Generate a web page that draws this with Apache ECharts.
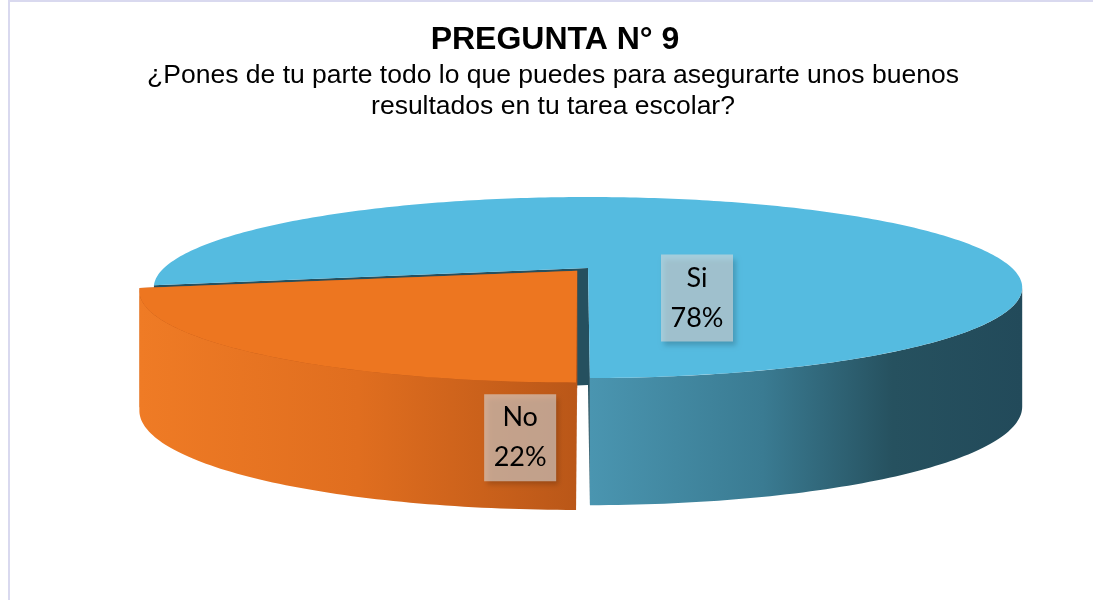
<!DOCTYPE html>
<html>
<head>
<meta charset="utf-8">
<script src="https://cdn.jsdelivr.net/npm/echarts@6/dist/echarts.min.js"></script>
<style>
  html, body { margin: 0; background: #fff; }
  #chart { width: 1093px; height: 600px; }
</style>
</head>
<body>
<div id="chart"></div>
<script>
// datos de la pregunta
var titleText = 'PREGUNTA N° 9';
var subtitleLines = [
  '¿Pones de tu parte todo lo que puedes para asegurarte unos buenos',
  'resultados en tu tarea escolar?'
];
var categories = ['Si', 'No'];
var percents = [78, 22];

// estilo / geometria del "pastel 3D"
var topColors = ['#55BBE0', '#ED7620'];
var faceColors = ['#25505F', '#B8561A'];
var wallStops = [
  [[0, '#4A95B0'], [0.4, '#3A7B92'], [0.7, '#26515F'], [1, '#224A5A']],
  [[0, '#EF7B25'], [0.5, '#E06E1F'], [1, '#BA5718']]
];
var explode = [0, 0.04];
var labelShift = [[109, 30], [-57, 167]];
var firstAngle = 169;
var CX = 588, CY = 268, RX = 424, RY = 86.3, K = 0.2155, DEPTH = 117, K2 = 0.08;

var total = percents.reduce(function (a, b) { return a + b; }, 0);
var angles = [];
var acc = firstAngle;
percents.forEach(function (p) {
  var a0 = acc * Math.PI / 180;
  acc += p / total * 360;
  angles.push([a0, acc * Math.PI / 180]);
});

function proj(u, v, h) {
  var d = 1 - K * v;
  return [CX + RX * u / d, CY + RY * v / d + h * DEPTH / (1 - K2 * v)];
}

function arc(ox, oy, t0, t1, h) {
  var pts = [];
  var n = Math.max(2, Math.ceil(Math.abs(t1 - t0) / (Math.PI / 180)));
  for (var s = 0; s <= n; s++) {
    var t = t0 + (t1 - t0) * s / n;
    pts.push(proj(ox + Math.cos(t), oy + Math.sin(t), h));
  }
  return pts;
}

function cutFace(ox, oy, a) {
  return [
    proj(ox, oy, 0),
    proj(ox + Math.cos(a), oy + Math.sin(a), 0),
    proj(ox + Math.cos(a), oy + Math.sin(a), 1),
    proj(ox, oy, 1)
  ];
}

function renderSlice(params, api) {
  var i = params.dataIndex;
  var a0 = angles[i][0], a1 = angles[i][1];
  var mid = (a0 + a1) / 2;
  var ox = explode[i] * Math.cos(mid), oy = explode[i] * Math.sin(mid);
  var children = [];

  // caras de corte
  [a0, a1].forEach(function (a) {
    children.push({
      type: 'polygon',
      shape: { points: cutFace(ox, oy, a) },
      style: { fill: faceColors[i] }
    });
  });

  // pared lateral visible (parte delantera)
  var s = Math.asin(K);
  for (var n = -1; n <= 2; n++) {
    var lo = Math.max(a0, s + 2 * Math.PI * n);
    var hi = Math.min(a1, Math.PI - s + 2 * Math.PI * n);
    if (hi > lo) {
      var pts = arc(ox, oy, lo, hi, 0).concat(arc(ox, oy, hi, lo, 1));
      children.push({
        type: 'polygon',
        shape: { points: pts },
        style: {
          fill: new echarts.graphic.LinearGradient(0, 0, 1, 0, wallStops[i].map(function (c) {
            return { offset: c[0], color: c[1] };
          }))
        }
      });
    }
  }

  // cara superior
  var topPts = [proj(ox, oy, 0)].concat(arc(ox, oy, a0, a1, 0));
  children.push({
    type: 'polygon',
    shape: { points: topPts },
    style: { fill: topColors[i] }
  });

  // etiqueta
  var apex = proj(ox, oy, 0);
  var lx = apex[0] + labelShift[i][0], ly = apex[1] + labelShift[i][1];
  children.push({
    type: 'rect',
    shape: { x: lx - 36, y: ly - 43.5, width: 72, height: 87 },
    style: {
      fill: 'rgba(218,218,218,0.6)',
      shadowBlur: 5, shadowOffsetX: 3, shadowOffsetY: 4,
      shadowColor: 'rgba(0,0,0,0.3)'
    }
  });
  children.push({
    type: 'text',
    x: lx, y: ly,
    style: {
      text: api.value(2) + '\n' + api.value(1) + '%',
      fontFamily: 'Lato', fontSize: 27, lineHeight: 40,
      fill: '#000', align: 'center', verticalAlign: 'middle'
    }
  });

  return { type: 'group', children: children };
}

var chart = echarts.init(document.getElementById('chart'));
chart.setOption({
  backgroundColor: '#fff',
  animation: false,
  graphic: [
    {
      type: 'rect', silent: true,
      shape: { x: 9, y: 1, width: 1100, height: 620 },
      style: { fill: 'none', stroke: '#D9D9EF', lineWidth: 2 }
    },
    {
      type: 'text', x: 555, y: 40,
      style: {
        text: titleText, fontFamily: 'Liberation Sans', fontWeight: 'bold', fontSize: 32,
        fill: '#000', align: 'center', verticalAlign: 'middle'
      }
    },
    {
      type: 'text', x: 553, y: 91,
      style: {
        text: subtitleLines.join('\n'), fontFamily: 'Liberation Sans', fontSize: 26.5, lineHeight: 31,
        fill: '#000', align: 'center', verticalAlign: 'middle'
      }
    }
  ],
  series: [{
    type: 'custom',
    coordinateSystem: 'none',
    renderItem: renderSlice,
    data: percents.map(function (p, i) { return [i, p, categories[i]]; }),
    dimensions: ['idx', 'value', { name: 'name', type: 'ordinal' }]
  }]
});
</script>
</body>
</html>
